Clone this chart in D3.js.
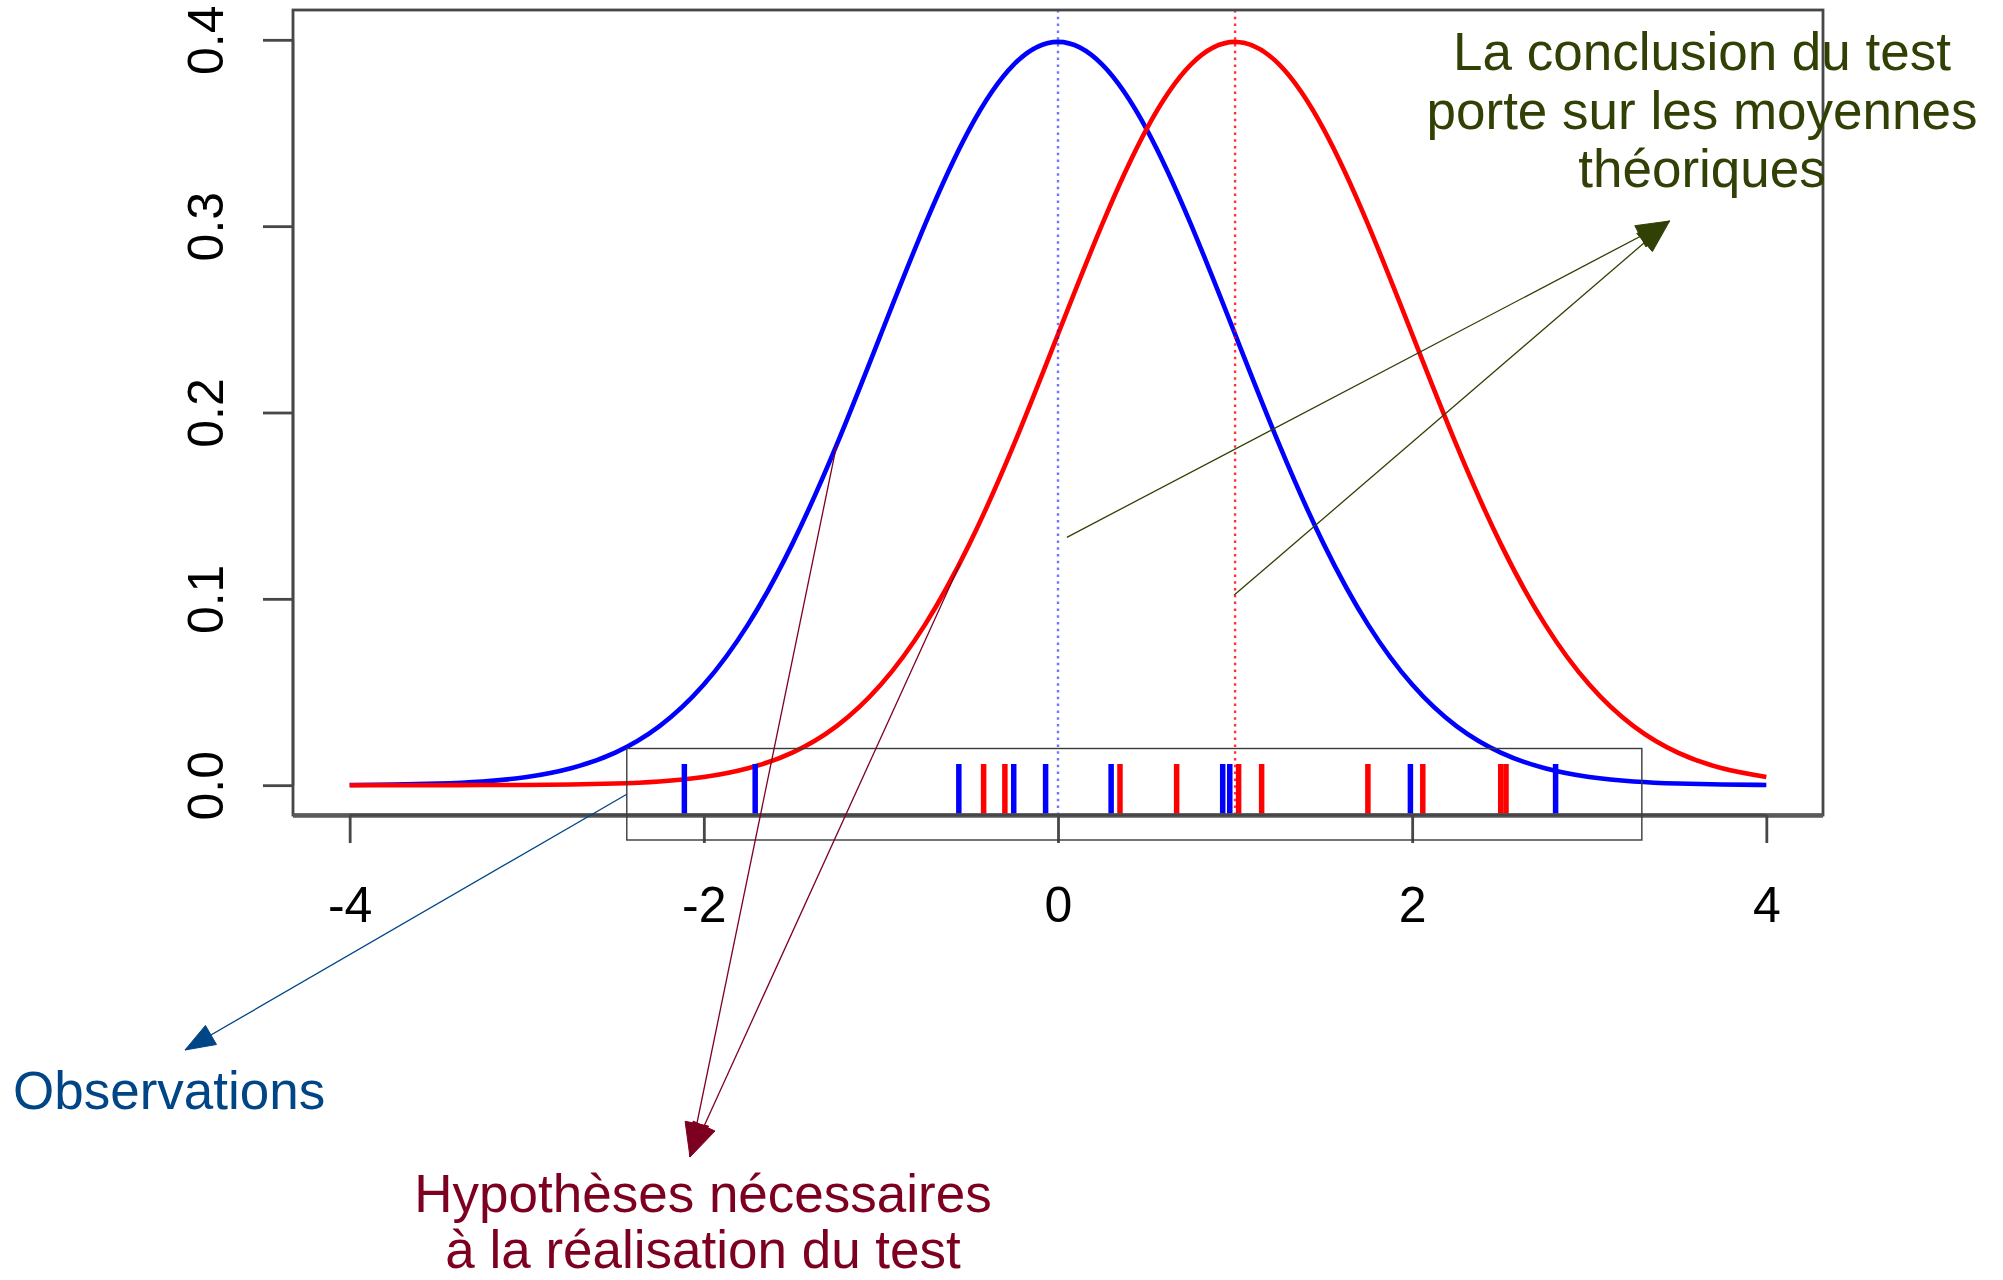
<!DOCTYPE html>
<html>
<head>
<meta charset="utf-8">
<script src="https://cdn.jsdelivr.net/npm/d3@7/dist/d3.min.js"></script>
<style>
  html, body { margin: 0; padding: 0; background: #ffffff; }
  svg { display: block; }
  text { font-family: "Liberation Sans", Arial, Helvetica, sans-serif; }
</style>
</head>
<body>
<svg id="chart" width="2003" height="1280"></svg>
<script>
// Evaluation grid for the two density curves
const gridX = [-4, -3.75, -3.5, -3.25, -3, -2.75, -2.5, -2.25, -2, -1.75, -1.5, -1.25, -1, -0.75, -0.5, -0.25,
               0, 0.25, 0.5, 0.75, 1, 1.25, 1.5, 1.75, 2, 2.25, 2.5, 2.75, 3, 3.25, 3.5, 3.75, 4];

// Density of the first population (centred on 0)
const blueDensity = [0.0001, 0.0004, 0.0009, 0.0020, 0.0044, 0.0091, 0.0175, 0.0317, 0.0540, 0.0863, 0.1295, 0.1826,
                     0.2420, 0.3011, 0.3521, 0.3867, 0.3989, 0.3867, 0.3521, 0.3011, 0.2420, 0.1826, 0.1295, 0.0863,
                     0.0540, 0.0317, 0.0175, 0.0091, 0.0044, 0.0020, 0.0009, 0.0004, 0.0001];

// Density of the second population (centred on 1)
const redDensity = [0.0000, 0.0000, 0.0000, 0.0001, 0.0001, 0.0004, 0.0009, 0.0020, 0.0044, 0.0091, 0.0175, 0.0317,
                    0.0540, 0.0863, 0.1295, 0.1826, 0.2420, 0.3011, 0.3521, 0.3867, 0.3989, 0.3867, 0.3521, 0.3011,
                    0.2420, 0.1826, 0.1295, 0.0863, 0.0540, 0.0317, 0.0175, 0.0091, 0.0044];

// Theoretical means
const means = [0, 1];

// Observed samples (rug)
const blueObs = [-2.11, -1.71, -0.56, -0.25, -0.07, 0.30, 0.93, 0.97, 1.99, 2.81];
const redObs  = [-0.42, -0.30, 0.35, 0.67, 1.02, 1.15, 1.75, 2.06, 2.50, 2.53];

// Axis ticks
const xTicks = [-4, -2, 0, 2, 4];
const yTicks = [0, 0.1, 0.2, 0.3, 0.4];
const yTickLabels = ["0.0", "0.1", "0.2", "0.3", "0.4"];

// Annotation texts
const conclusionLines = ["La conclusion du test", "porte sur les moyennes", "théoriques"];
const hypothesisLines = ["Hypothèses nécessaires", "à la réalisation du test"];
const observationsLabel = "Observations";

const BLUE = "#0000ff", RED = "#ff0000";
const GREEN_NOTE = "#314004", MAROON_NOTE = "#7e0021", BLUE_NOTE = "#004586";
const AXIS = "#474747";

const svg = d3.select("#chart");
svg.append("rect").attr("width", 2003).attr("height", 1280).attr("fill", "#fff");

// Scales with a 4% margin around the data range
const x = d3.scaleLinear().domain([-4.32, 4.32]).range([293, 1823]);
const y = d3.scaleLinear().domain([-0.016, 0.416]).range([815, 10]);

const plot = svg.append("g");

const line = d3.line()
  .x((d, i) => x(gridX[i]))
  .y(d => y(d))
  .curve(d3.curveNatural);

plot.append("path").datum(blueDensity)
  .attr("d", line).attr("fill", "none")
  .attr("stroke", BLUE).attr("stroke-width", 4.6).attr("stroke-linejoin", "round");
plot.append("path").datum(redDensity)
  .attr("d", line).attr("fill", "none")
  .attr("stroke", RED).attr("stroke-width", 4.6).attr("stroke-linejoin", "round");

// Rug of observations
const rugTop = 764;
function rug(values, color) {
  plot.append("g").selectAll("line").data(values).join("line")
    .attr("x1", d => x(d)).attr("x2", d => x(d))
    .attr("y1", y.range()[0]).attr("y2", rugTop)
    .attr("stroke", color).attr("stroke-width", 5.5);
}
rug(blueObs, BLUE);
rug(redObs, RED);

// Dotted lines at the theoretical means
plot.selectAll(".meanline").data(means).join("line")
  .attr("class", "meanline")
  .attr("x1", d => x(d)).attr("x2", d => x(d))
  .attr("y1", y.range()[1]).attr("y2", y.range()[0])
  .attr("stroke", (d, i) => i === 0 ? BLUE : RED)
  .attr("stroke-opacity", (d, i) => i === 0 ? 0.55 : 0.8)
  .attr("stroke-width", 2.4)
  .attr("stroke-dasharray", "2.5,4.3");

// Plot frame
svg.append("rect")
  .attr("x", x.range()[0]).attr("y", y.range()[1])
  .attr("width", x.range()[1] - x.range()[0])
  .attr("height", y.range()[0] - y.range()[1])
  .attr("fill", "none").attr("stroke", AXIS).attr("stroke-width", 2.8);
svg.append("line")
  .attr("x1", x.range()[0]).attr("x2", x.range()[1])
  .attr("y1", y.range()[0] + 0.5).attr("y2", y.range()[0] + 0.5)
  .attr("stroke", "#5a5a5a").attr("stroke-width", 4.5);

// Bottom axis
const xAxis = svg.append("g")
  .attr("transform", `translate(0,${y.range()[0]})`)
  .call(d3.axisBottom(x).tickValues(xTicks).tickSize(28).tickPadding(0).tickFormat(d3.format("d")));
xAxis.select(".domain").attr("stroke", AXIS).attr("stroke-width", 2.5)
  .attr("d", `M${x(-4)},0H${x(4)}`);
xAxis.selectAll(".tick line").attr("stroke", AXIS).attr("stroke-width", 2.8);
xAxis.selectAll(".tick text")
  .attr("y", 107).attr("dy", null)
  .attr("fill", "#000").attr("font-size", 50)
  .attr("font-family", "'Liberation Sans', Arial, sans-serif")
  .text(d => d < 0 ? "-" + Math.abs(d) : String(d));

// Left axis with labels rotated along the axis
const yAxis = svg.append("g")
  .attr("transform", `translate(${x.range()[0]},0)`)
  .call(d3.axisLeft(y).tickValues(yTicks).tickSize(30).tickFormat((d, i) => yTickLabels[i]));
yAxis.select(".domain").attr("stroke", AXIS).attr("stroke-width", 2.5)
  .attr("d", `M0,${y(0)}V${y(0.4)}`);
yAxis.selectAll(".tick line").attr("stroke", AXIS).attr("stroke-width", 2.8);
yAxis.selectAll(".tick text")
  .attr("x", null).attr("dy", null)
  .attr("transform", "translate(-70,0) rotate(-90)")
  .attr("text-anchor", "middle")
  .attr("fill", "#000").attr("font-size", 50)
  .attr("font-family", "'Liberation Sans', Arial, sans-serif");

// ---- Annotations ----
const notes = svg.append("g");

function arrowHead(tip, from, len, half, color) {
  const dx = from[0] - tip[0], dy = from[1] - tip[1];
  const L = Math.hypot(dx, dy), ux = dx / L, uy = dy / L;
  const bx = tip[0] + ux * len, by = tip[1] + uy * len;
  const px = -uy * half, py = ux * half;
  notes.append("path")
    .attr("d", `M${tip[0]},${tip[1]}L${bx + px},${by + py}L${bx - px},${by - py}Z`)
    .attr("fill", color).attr("stroke", color).attr("stroke-width", 1);
}
function arrow(from, tip, color, head) {
  notes.append("line")
    .attr("x1", from[0]).attr("y1", from[1]).attr("x2", tip[0]).attr("y2", tip[1])
    .attr("stroke", color).attr("stroke-width", 1.3);
  if (head) arrowHead(tip, from, head[0], head[1], color);
}

// Box around the rug
const boxX0 = x(-2.435), boxX1 = x(3.297), boxY0 = 748.5, boxY1 = 840;
notes.append("rect")
  .attr("x", boxX0).attr("y", boxY0).attr("width", boxX1 - boxX0).attr("height", boxY1 - boxY0)
  .attr("fill", "none").attr("stroke", "#3a3a3a").attr("stroke-width", 1.4);

// Observations arrow
const obsTip = [185, 1050];
arrow([boxX0, (boxY0 + boxY1) / 2], obsTip, BLUE_NOTE, [30, 11]);
notes.append("text").attr("x", 13).attr("y", 1109)
  .attr("font-size", 53).attr("fill", BLUE_NOTE).text(observationsLabel);

// Hypotheses arrows: to the shape of each curve
const hypTip = [690, 1157];
const hypFrom = [[x(-1.25), y(0.1826)], [x(-0.55), y(0.1195)]];
hypFrom.forEach(f => arrow(f, hypTip, MAROON_NOTE, [34, 12]));
notes.append("g").selectAll("text").data(hypothesisLines).join("text")
  .attr("x", 703).attr("y", (d, i) => 1212 + i * 56)
  .attr("text-anchor", "middle").attr("font-size", 53).attr("fill", MAROON_NOTE)
  .text(d => d);

// Conclusion arrows: from each theoretical mean line
const conTip = [1669.6, 221];
const conFrom = [[x(0.05), y(0.133)], [x(0.995), y(0.102)]];
conFrom.forEach(f => arrow(f, conTip, GREEN_NOTE, [33, 12]));
notes.append("g").selectAll("text").data(conclusionLines).join("text")
  .attr("x", 1702).attr("y", (d, i) => 70 + i * 58.5)
  .attr("text-anchor", "middle").attr("font-size", 53).attr("fill", GREEN_NOTE)
  .text(d => d);
</script>
</body>
</html>
